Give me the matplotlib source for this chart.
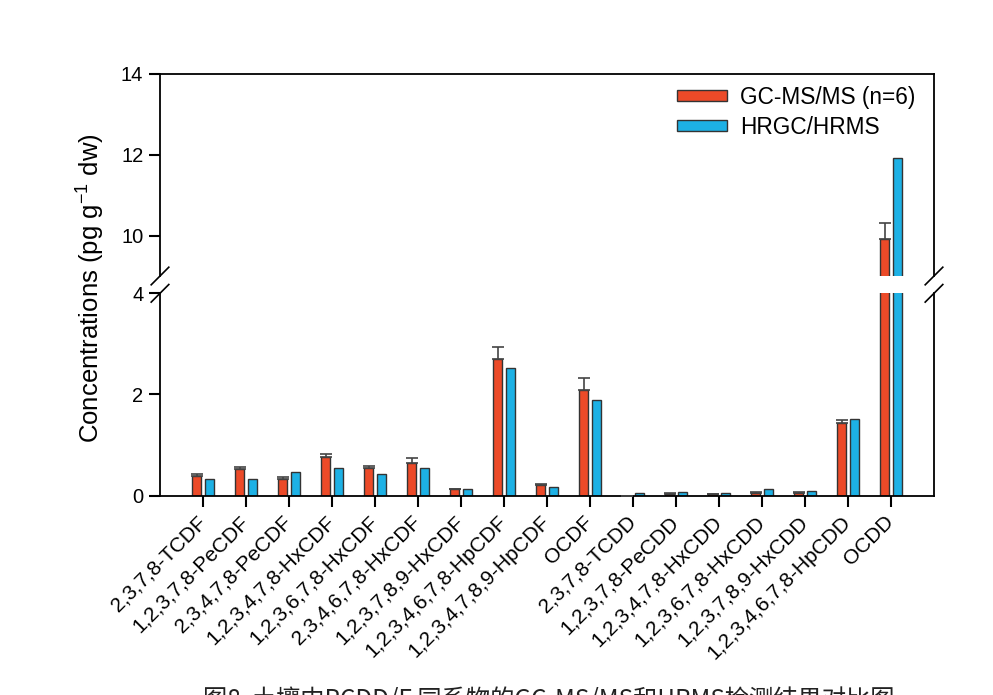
import matplotlib
matplotlib.use("Agg")
import matplotlib.pyplot as plt
import numpy as np

plt.rcParams['font.family'] = ['Liberation Sans', 'DejaVu Sans']

# Congeners and measured concentrations (pg/g dw)
congeners = [
    "2,3,7,8-TCDF", "1,2,3,7,8-PeCDF", "2,3,4,7,8-PeCDF", "1,2,3,4,7,8-HxCDF",
    "1,2,3,6,7,8-HxCDF", "2,3,4,6,7,8-HxCDF", "1,2,3,7,8,9-HxCDF",
    "1,2,3,4,6,7,8-HpCDF", "1,2,3,4,7,8,9-HpCDF", "OCDF", "2,3,7,8-TCDD",
    "1,2,3,7,8-PeCDD", "1,2,3,4,7,8-HxCDD", "1,2,3,6,7,8-HxCDD",
    "1,2,3,7,8,9-HxCDD", "1,2,3,4,6,7,8-HpCDD", "OCDD",
]
gcmsms = [0.38, 0.52, 0.33, 0.76, 0.55, 0.64, 0.12, 2.70, 0.20, 2.08,
          0.00, 0.03, 0.02, 0.05, 0.05, 1.44, 9.92]
gcmsms_sd = [0.04, 0.04, 0.03, 0.07, 0.03, 0.11, 0.01, 0.23, 0.03, 0.24,
             0.00, 0.01, 0.01, 0.02, 0.01, 0.06, 0.38]
hrms = [0.33, 0.33, 0.46, 0.54, 0.43, 0.54, 0.12, 2.53, 0.16, 1.89,
        0.05, 0.065, 0.05, 0.13, 0.08, 1.51, 11.93]

series_labels = ["GC-MS/MS (n=6)", "HRGC/HRMS"]
caption = "图8  土壤中PCDD/F 同系物的GC-MS/MS和HRMS检测结果对比图"

red = "#EC4A28"
blue = "#1DB1E5"
edge = "#333333"

W, H = 993, 695
fig = plt.figure(figsize=(W / 100, H / 100), dpi=100)

left, right = 160 / W, 934 / W
ax_top = fig.add_axes([left, 1 - 276 / H, right - left, (276 - 74) / H])
ax_bot = fig.add_axes([left, 1 - 495.5 / H, right - left, (495.5 - 293.3) / H])

x = np.arange(len(congeners))
off, bw = 0.15, 0.19

for ax in (ax_top, ax_bot):
    ax.bar(x - off, gcmsms, bw, color=red, edgecolor=edge, linewidth=1.0,
           label=series_labels[0], zorder=2)
    ax.bar(x + off, hrms, bw, color=blue, edgecolor=edge, linewidth=1.0,
           label=series_labels[1], zorder=2)
    ax.errorbar(x - off, gcmsms, yerr=[np.zeros(len(x)), gcmsms_sd], fmt='none',
                ecolor="#444444", elinewidth=1.2, capsize=4.3, capthick=1.2, zorder=3)
    ax.set_xlim(-1, len(congeners))
    for s in ax.spines.values():
        s.set_linewidth(1.3)
    ax.tick_params(axis='y', direction='out', length=8, width=1.5, labelsize=14.5, pad=4)

ax_top.set_ylim(9, 14)
ax_top.set_yticks([10, 12, 14])
ax_top.spines['bottom'].set_visible(False)
ax_top.tick_params(axis='x', bottom=False, labelbottom=False)

ax_bot.set_ylim(0, 4)
ax_bot.set_yticks([0, 2, 4])
ax_bot.spines['top'].set_visible(False)
ax_bot.set_xticks(x)
ax_bot.set_xticklabels(congeners, rotation=45, ha='right', va='center',
                       rotation_mode='anchor', fontsize=15)
ax_bot.tick_params(axis='x', direction='out', length=8, width=1.5, pad=9)

# diagonal break marks on both spines
dx, dy = 8.8 / (W * (right - left)), 8.8 / 202
for ax, yy in ((ax_top, 0), (ax_bot, 1)):
    for xx in (0, 1):
        ax.plot([xx - dx, xx + dx], [yy - dy, yy + dy], transform=ax.transAxes,
                color='black', linewidth=1.2, clip_on=False)

ax_top.legend(loc='upper right', bbox_to_anchor=(0.997, 1.02), frameon=False,
              fontsize=16.3, handlelength=2.2, handleheight=0.37,
              labelspacing=0.3, handletextpad=0.6, borderaxespad=0.3)

fig.text(90 / W, 1 - 288 / H, r"Concentrations (pg g$^{\mathregular{-1}}$ dw)",
         rotation=90, ha='center', va='center', fontsize=18.5)

fig.text(203 / W, 1 - 687 / H, caption, ha='left', va='top', fontsize=17.5,
         family=['Noto Sans CJK SC', 'DejaVu Sans'], color='#222222')

fig.savefig("out.png", dpi=100, facecolor='white')
